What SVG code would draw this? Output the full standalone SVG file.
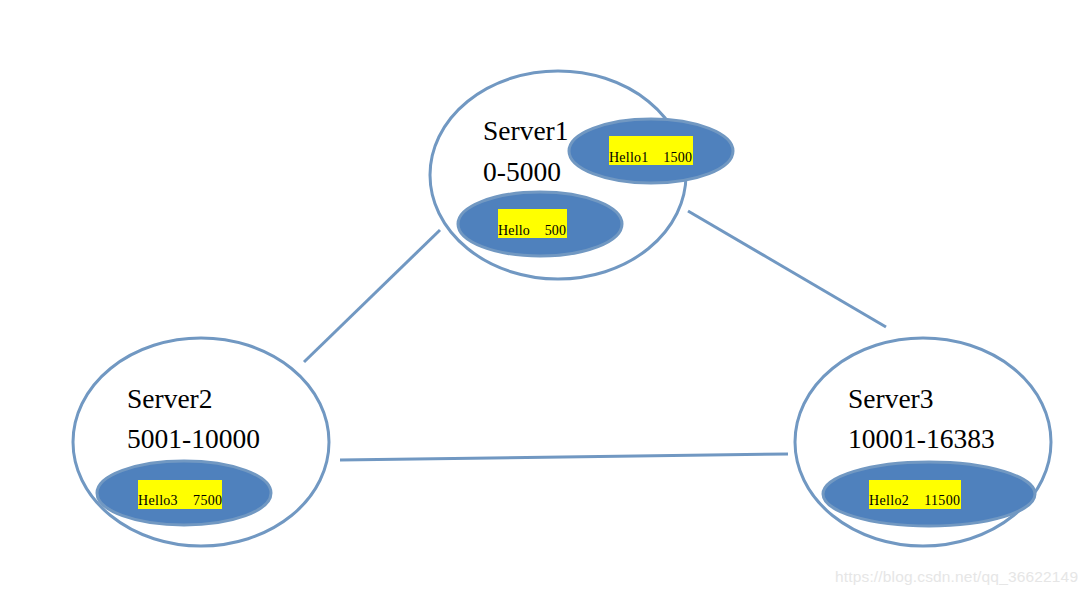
<svg xmlns="http://www.w3.org/2000/svg" width="1088" height="594" viewBox="0 0 1088 594">
<style>
.srv{fill:none;stroke:#7198c2;stroke-width:3}
.key{fill:#4f81bd;stroke:#7198c2;stroke-width:3}
.hl{fill:#ffff00}
.big{font-family:"Liberation Serif",serif;font-size:27.5px;fill:#000}
.sm{font-family:"Liberation Serif",serif;font-size:14px;fill:#000}
.conn{stroke:#7198c2;stroke-width:3;fill:none}
</style>
<rect width="1088" height="594" fill="#fff"/>
<g id="connectors">
<line class="conn" x1="304" y1="362" x2="440" y2="230"/>
<line class="conn" x1="688" y1="211" x2="886" y2="327"/>
<line class="conn" x1="340" y1="460" x2="788" y2="454"/>
</g>
<g id="server1">
<ellipse class="srv" cx="558" cy="175" rx="128" ry="104"/>
<text class="big" x="483" y="140">Server1</text>
<text class="big" x="483" y="181">0-5000</text>
<ellipse class="key" cx="651" cy="151" rx="82" ry="32"/>
<rect class="hl" x="609" y="136" width="84" height="29"/>
<text class="sm" x="609" y="162" xml:space="preserve" textLength="83" lengthAdjust="spacing">Hello1    1500</text>
<ellipse class="key" cx="540" cy="224" rx="82" ry="32"/>
<rect class="hl" x="498" y="209" width="69" height="29"/>
<text class="sm" x="498" y="235" xml:space="preserve" textLength="68" lengthAdjust="spacing">Hello    500</text>
</g>
<g id="server2">
<ellipse class="srv" cx="201" cy="442" rx="128" ry="104"/>
<text class="big" x="127" y="408">Server2</text>
<text class="big" x="127" y="448">5001-10000</text>
<ellipse class="key" cx="184" cy="493" rx="87" ry="32"/>
<rect class="hl" x="138" y="480" width="84" height="29"/>
<text class="sm" x="138" y="505" xml:space="preserve" textLength="84" lengthAdjust="spacing">Hello3    7500</text>
</g>
<g id="server3">
<ellipse class="srv" cx="923" cy="442" rx="128" ry="104"/>
<text class="big" x="848" y="408">Server3</text>
<text class="big" x="848" y="448">10001-16383</text>
<ellipse class="key" cx="929" cy="494" rx="106" ry="32"/>
<rect class="hl" x="869" y="480" width="92" height="29"/>
<text class="sm" x="869" y="505" xml:space="preserve" textLength="91" lengthAdjust="spacing">Hello2    11500</text>
</g>
<text x="835" y="582" font-family="Liberation Sans,sans-serif" font-size="15.5" fill="#e6e6e6" textLength="243">https://blog.csdn.net/qq_36622149</text>
</svg>
